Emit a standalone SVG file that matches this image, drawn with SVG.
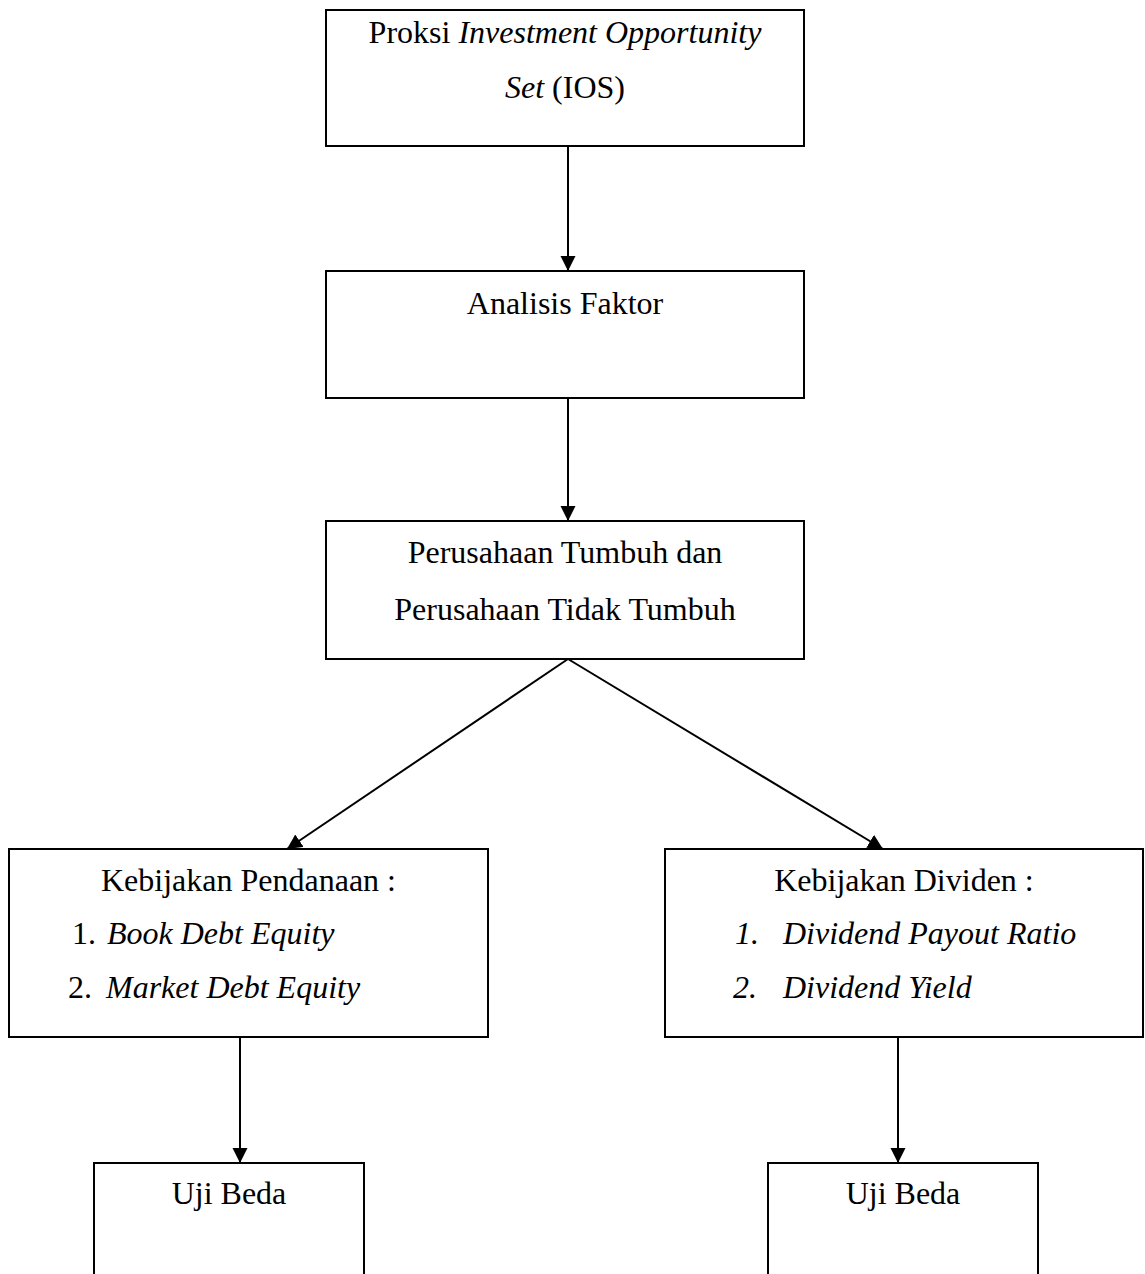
<svg xmlns="http://www.w3.org/2000/svg" width="1145" height="1274" viewBox="0 0 1145 1274">
<style>
.box{fill:#fff;stroke:#000;stroke-width:2}
.t{font-family:"Liberation Serif","Times New Roman",serif;font-size:32px;fill:#000}
.c{text-anchor:middle}
.i{font-style:italic}
.ln{stroke:#000;stroke-width:2;fill:none}
</style>
<defs>
<marker id="ah" markerUnits="userSpaceOnUse" markerWidth="16" markerHeight="16" refX="15" refY="7.5" orient="auto">
<path d="M0,0 L15,7.5 L0,15 z" fill="#000"/>
</marker>
</defs>
<rect width="1145" height="1274" fill="#fff"/>
<g id="connectors">
<line class="ln" x1="568" y1="146" x2="568" y2="271" marker-end="url(#ah)"/>
<line class="ln" x1="568" y1="398" x2="568" y2="521" marker-end="url(#ah)"/>
<line class="ln" x1="568" y1="659" x2="287" y2="849" marker-end="url(#ah)"/>
<line class="ln" x1="568" y1="659" x2="883" y2="849" marker-end="url(#ah)"/>
<line class="ln" x1="240" y1="1037" x2="240" y2="1163" marker-end="url(#ah)"/>
<line class="ln" x1="898" y1="1037" x2="898" y2="1163" marker-end="url(#ah)"/>
</g>
<g id="node-ios">
<rect class="box" x="326" y="10" width="478" height="136"/>
<text class="t c" x="565" y="43">Proksi <tspan class="i">Investment Opportunity</tspan></text>
<text class="t c" x="565" y="98"><tspan class="i">Set</tspan> (IOS)</text>
</g>
<g id="node-analisis">
<rect class="box" x="326" y="271" width="478" height="127"/>
<text class="t c" x="565" y="314">Analisis Faktor</text>
</g>
<g id="node-perusahaan">
<rect class="box" x="326" y="521" width="478" height="138"/>
<text class="t c" x="565" y="563">Perusahaan Tumbuh dan</text>
<text class="t c" x="565" y="620">Perusahaan Tidak Tumbuh</text>
</g>
<g id="node-pendanaan">
<rect class="box" x="9" y="849" width="479" height="188"/>
<text class="t c" x="248.5" y="891">Kebijakan Pendanaan :</text>
<text class="t" x="72" y="944">1.</text>
<text class="t i" x="107" y="944">Book Debt Equity</text>
<text class="t" x="68" y="998">2.</text>
<text class="t i" x="106" y="998">Market Debt Equity</text>
</g>
<g id="node-dividen">
<rect class="box" x="665" y="849" width="478" height="188"/>
<text class="t c" x="904" y="891">Kebijakan Dividen :</text>
<text class="t i" x="735" y="944">1.</text>
<text class="t i" x="783" y="944">Dividend Payout Ratio</text>
<text class="t i" x="733" y="998">2.</text>
<text class="t i" x="783" y="998">Dividend Yield</text>
</g>
<g id="node-uji-left">
<rect class="box" x="94" y="1163" width="270" height="130"/>
<text class="t c" x="229" y="1204">Uji Beda</text>
</g>
<g id="node-uji-right">
<rect class="box" x="768" y="1163" width="270" height="130"/>
<text class="t c" x="903" y="1204">Uji Beda</text>
</g>
</svg>
